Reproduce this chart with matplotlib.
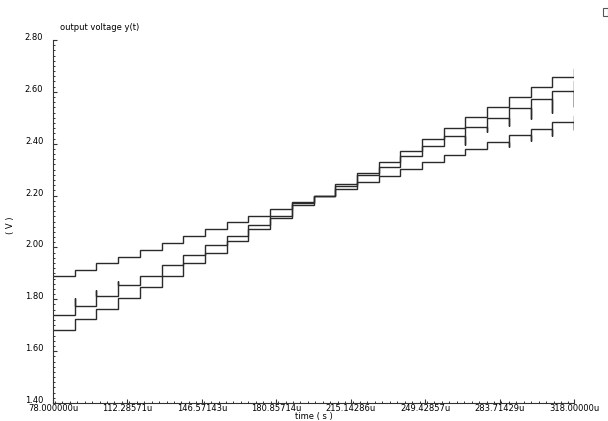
import matplotlib
matplotlib.use("Agg")
import matplotlib.pyplot as plt
from matplotlib.ticker import MultipleLocator, FixedLocator
from matplotlib.patches import Rectangle

# ---------------- DATA (read off the waveform viewer) ----------------
# step edges in microseconds
step_times = [78, 88, 98, 108, 118, 128, 138, 148, 158, 168, 178, 188, 198,
              208, 218, 228, 238, 248, 258, 268, 278, 288, 298, 308, 318]

# held level of each step (V), one per interval
curve_a = [1.890, 1.913, 1.939, 1.964, 1.990, 2.018, 2.044, 2.070, 2.097, 2.121,
           2.148, 2.176, 2.200, 2.225, 2.254, 2.276, 2.302, 2.328, 2.357, 2.381,
           2.407, 2.432, 2.458, 2.483]
curve_b = [1.739, 1.774, 1.814, 1.855, 1.891, 1.932, 1.971, 2.008, 2.046, 2.087,
           2.122, 2.170, 2.200, 2.245, 2.288, 2.331, 2.373, 2.417, 2.459, 2.502,
           2.543, 2.581, 2.620, 2.656]
curve_c = [1.682, 1.723, 1.761, 1.804, 1.849, 1.891, 1.939, 1.980, 2.025, 2.071,
           2.112, 2.164, 2.200, 2.237, 2.279, 2.311, 2.353, 2.391, 2.430, 2.466,
           2.501, 2.537, 2.571, 2.604]

# value right at the last edge (318u)
end_a = 2.505
end_b = 2.690
end_c = 2.640

# glitches on the transitions: {edge index: extreme value}
glitch_a = {21: 2.389, 22: 2.412, 23: 2.430, 24: 2.453}
glitch_b = {1: 1.804, 2: 1.836, 3: 1.872}
glitch_c = {19: 2.395, 20: 2.444, 21: 2.469, 22: 2.494, 23: 2.520, 24: 2.540}

x_major = [78.0, 112.28571, 146.57143, 180.85714, 215.14286, 249.42857, 283.71429, 318.0]
x_labels = ["78.000000u", "112.28571u", "146.57143u", "180.85714u",
            "215.14286u", "249.42857u", "283.71429u", "318.00000u"]
y_major = [1.40, 1.60, 1.80, 2.00, 2.20, 2.40, 2.60, 2.80]


def stair_path(levels, end_val, glitch):
    xs = [step_times[0]]
    ys = [levels[0]]
    for k in range(1, len(step_times)):
        nxt = levels[k] if k < len(levels) else end_val
        xs.append(step_times[k])
        ys.append(levels[k - 1])
        if k in glitch:
            xs.append(step_times[k])
            ys.append(glitch[k])
        xs.append(step_times[k])
        ys.append(nxt)
    return xs, ys


fig = plt.figure(figsize=(6.08, 4.21), dpi=100)
ax = fig.add_axes([53 / 608, 1 - 403 / 421, 521 / 608, 363 / 421])

for lev, end, gl in [(curve_a, end_a, glitch_a),
                     (curve_b, end_b, glitch_b),
                     (curve_c, end_c, glitch_c)]:
    xs, ys = stair_path(lev, end, gl)
    ax.plot(xs, ys, color="#2a2a2a", lw=1.0, solid_joinstyle="miter")

ax.set_xlim(78, 318)
ax.set_ylim(1.40, 2.80)

for s in ["top", "right"]:
    ax.spines[s].set_visible(False)
for s in ["left", "bottom"]:
    ax.spines[s].set_color("#333333")
    ax.spines[s].set_linewidth(0.8)

ax.xaxis.set_major_locator(FixedLocator(x_major))
ax.xaxis.set_minor_locator(MultipleLocator((318 - 78) / 70))
ax.set_xticklabels(x_labels)
ax.yaxis.set_major_locator(FixedLocator(y_major))
ax.yaxis.set_minor_locator(MultipleLocator(0.02))
ax.set_yticklabels([f"{v:.2f}" for v in y_major])

ax.tick_params(which="both", direction="in", color="#333333", labelsize=6, pad=1)
ax.tick_params(which="major", length=3, width=0.8)
ax.tick_params(which="minor", length=1.5, width=0.7)
ax.tick_params(axis="y", pad=7)
for lbl in ax.get_yticklabels():
    lbl.set_verticalalignment("baseline")

ax.set_xlabel("time ( s )", fontsize=6, labelpad=-1)
ax.set_ylabel("( V )", fontsize=6)
ax.yaxis.set_label_coords(-(53 - 15) / 521, 0.49)

fig.text(60 / 608, 1 - 27 / 421, "output voltage y(t)", fontsize=6, va="center", ha="left")

# little status box in the top-right corner of the viewer
fig.patches.append(Rectangle((603 / 608, 1 - 16 / 421), 5 / 608, 8 / 421,
                             transform=fig.transFigure, facecolor="white",
                             edgecolor="#555555", lw=0.8))

fig.savefig("out.png", dpi=100)
